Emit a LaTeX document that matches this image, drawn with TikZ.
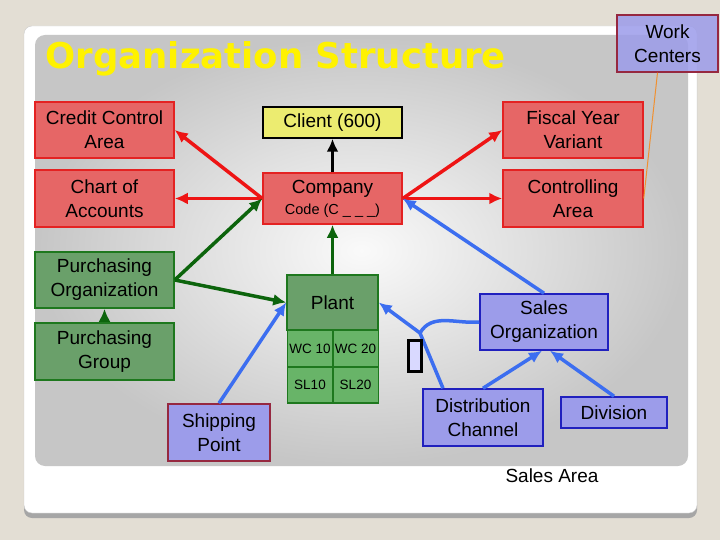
\documentclass[tikz,border=0pt]{standalone}
\usepackage{fontspec}
\setmainfont{Liberation Sans}
\newfontfamily\titlefont{DejaVu Sans}
\usetikzlibrary{shapes}
\usetikzlibrary{positioning}
\usetikzlibrary{arrows.meta}
\definecolor{pagebg}{HTML}{E3DED4}
\definecolor{boxred}{HTML}{E66666}
\definecolor{edgered}{HTML}{E42222}
\definecolor{linkred}{HTML}{EE1414}
\definecolor{boxgreen}{HTML}{6AA06A}
\definecolor{cellgreen}{HTML}{68B468}
\definecolor{edgegreen}{HTML}{1E781E}
\definecolor{linkgreen}{HTML}{0C640C}
\definecolor{boxblue}{HTML}{9C9CEA}
\definecolor{edgeblue}{HTML}{2020BE}
\definecolor{edgewine}{HTML}{962840}
\definecolor{linkblue}{HTML}{3C6EF0}
\definecolor{boxyellow}{HTML}{ECEC70}
\definecolor{linkorange}{HTML}{F09030}
\tikzset{
  box/.style={draw, line width=1.5pt, inner sep=0pt, align=center,
    font=\fontsize{19}{24}\selectfont},
  redbox/.style={box, fill=boxred, draw=edgered},
  greenbox/.style={box, fill=boxgreen, draw=edgegreen},
  cell/.style={box, fill=cellgreen, draw=edgegreen, font=\fontsize{13.5}{15}\selectfont},
  bluebox/.style={box, fill=boxblue, draw=edgeblue},
  link/.style={->, >={Latex[length=13pt,width=12pt]}, line width=3.5pt},
}

\begin{document}
\begin{tikzpicture}[x=1pt, y=-1pt]

        % page and slide card
        \fill[pagebg] (0,0) rectangle (720,540);
        \useasboundingbox (0,0) rectangle (720,540);
        \fill[gray!70, rounded corners=8pt] (24,30) rectangle (697,518);
        \fill[white, draw=gray!40, rounded corners=8pt] (24,26) rectangle (697,513);
        \shade[rounded corners=10pt, inner color=gray!4, outer color=gray!45] (35,35) rectangle (688,466);

        \node[anchor=west, text=yellow, font=\titlefont\bfseries\fontsize{35.5}{40}\selectfont] (title) at (42,59){Organization Structure};

        % red area
        \node[redbox, minimum width=139pt, minimum height=56pt] (credit) at (104.5,130){Credit Control\\Area};
        \node[redbox, minimum width=139pt, minimum height=57pt] (chart) at (104.5,198.5){Chart of\\Accounts};
        \node[box, fill=boxyellow, draw=black, minimum width=139pt, minimum height=31pt] (client) at (332.5,122.5){Client (600)};
        \node[redbox, minimum width=139pt, minimum height=51pt] (company) at (332.5,198.5){Company\\[-3pt]{\fontsize{14.5}{16}\selectfont Code (C \_ \_ \_)}};
        \node[redbox, minimum width=140pt, minimum height=56pt] (fiscal) at (573,130){Fiscal Year\\Variant};
        \node[redbox, minimum width=140pt, minimum height=57pt] (controlling) at (573,198.5){Controlling\\Area};

        % green area
        \node[greenbox, minimum width=139pt, minimum height=56pt] (purchorg) at (104.5,280){Purchasing\\Organization};
        \node[greenbox, minimum width=139pt, minimum height=57pt] (purchgrp) at (104.5,351.5){Purchasing\\Group};
        \node[greenbox, minimum width=91pt, minimum height=55pt] (plant) at (332.5,302.5){Plant};
        \node[cell, minimum width=45.5pt, minimum height=37pt] (wc10) at (310,348.5){WC 10};
        \node[cell, minimum width=45.5pt, minimum height=37pt] (wc20) at (355.5,348.5){WC 20};
        \node[cell, minimum width=45.5pt, minimum height=36pt] (sl10) at (310,385){SL10};
        \node[cell, minimum width=45.5pt, minimum height=36pt] (sl20) at (355.5,385){SL20};

        % blue area
        \node[bluebox, draw=edgewine, minimum width=102pt, minimum height=57pt] (ship) at (219,432.5){Shipping\\Point};
        \node[bluebox, minimum width=128pt, minimum height=56pt] (salesorg) at (544,322){Sales\\Organization};
        \node[bluebox, minimum width=120pt, minimum height=57pt] (distr) at (483,417.5){Distribution\\Channel};
        \node[bluebox, minimum width=106pt, minimum height=31pt] (division) at (614,412.5){Division};
        \node[font=\fontsize{19}{24}\selectfont] (salesarea) at (552,476){Sales Area};
        \coordinate (fork) at (420,333);

        \node[box, fill=boxblue, fill opacity=0.85, text opacity=1, draw=edgewine, minimum width=101pt, minimum height=57pt] (work) at (667.5,43.5){Work\\Centers};

        % links
        \draw[link, linkred] (company.west) -- (credit.east);
        \draw[link, linkred] (company.west) -- (chart.east);
        \draw[link, linkred] (company.east) -- (fiscal.west);
        \draw[link, linkred] (company.east) -- (controlling.west);
        \draw[link, black] (company.north) -- (client.south);

        \draw[link, linkgreen] (purchorg.east) -- (company.west);
        \draw[link, linkgreen] (purchorg.east) -- (plant.west);
        \draw[link, linkgreen] (purchgrp.north) -- (purchorg.south);
        \draw[link, linkgreen] (plant.north) -- (company.south);

        \draw[link, linkblue] (ship.north) -- (plant.west);
        \draw[link, linkblue] (salesorg.north) -- (company.east);
        \draw[link, linkblue] (fork) -- (plant.east);
        \draw[linkblue, line width=3.5pt] (fork) to[out=60, in=185] (salesorg.west);
        \draw[linkblue, line width=3.5pt] (fork) -- ([xshift=-40pt]distr.north);
        \draw[link, linkblue] (distr.north) -- ([xshift=-2pt]salesorg.south);
        \draw[link, linkblue] (division.north) -- ([xshift=6pt]salesorg.south);

        \draw[linkorange, line width=1pt] ([xshift=-10pt]work.south) -- (controlling.east);

        \node[draw=black, line width=3pt, fill=blue!15!white, minimum width=13pt, minimum height=31pt, inner sep=0pt] (glyph) at (415,356){};

\end{tikzpicture}
\end{document}
